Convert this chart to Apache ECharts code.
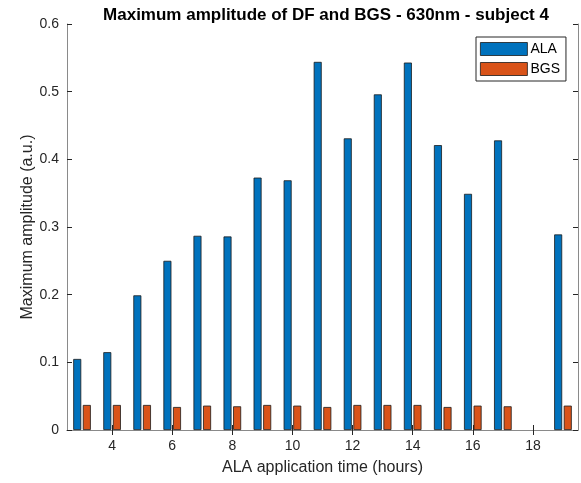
<!DOCTYPE html>
<html>
<head>
<meta charset="utf-8">
<script src="https://cdn.jsdelivr.net/npm/echarts@6/dist/echarts.min.js"></script>
<style>html,body{margin:0;padding:0;background:#fff}#c{width:581px;height:483px}</style>
</head>
<body>
<div id="c"></div>
<script>
const categories = [3,4,5,6,7,8,9,10,11,12,13,14,15,16,17,18,19];
const alaValues = [0.105,0.115,0.199,0.250,0.287,0.286,0.373,0.369,0.544,0.431,0.496,0.543,0.421,0.349,0.428,null,0.289];
const bgsValues = [0.037,0.037,0.037,0.034,0.036,0.035,0.037,0.036,0.034,0.037,0.037,0.037,0.034,0.036,0.035,null,0.036];
const yTicks = [0,0.1,0.2,0.3,0.4,0.5,0.6];

const font = 'Liberation Sans, Arial, sans-serif';
const axisGrey = '#8a8a8a';
const evenOnly = function (idx, val) { return Number(val) % 2 === 0; };

const chart = echarts.init(document.getElementById('c'), null, {renderer: 'canvas'});
chart.setOption({
  animation: false,
  backgroundColor: '#ffffff',
  title: {
    text: 'Maximum amplitude of DF and BGS - 630nm - subject 4',
    left: 321, textAlign: 'center', top: 2,
    textStyle: {fontFamily: font, fontSize: 17, fontWeight: 'bold', color: '#000'}
  },
  legend: {
    data: ['ALA', 'BGS'],
    orient: 'vertical',
    left: 476, top: 37,
    icon: 'rect',
    itemWidth: 47, itemHeight: 13, itemGap: 6,
    padding: [5, 6, 5, 4],
    borderColor: '#262626', borderWidth: 1,
    backgroundColor: '#fff',
    itemStyle: {borderColor: '#1a1a1a', borderWidth: 0.8},
    textStyle: {fontFamily: font, fontSize: 14, color: '#000', padding: [0, 0, 0, -2]}
  },
  grid: {left: 67, right: 3, top: 24, bottom: 53, containLabel: false},
  xAxis: [{
    type: 'category',
    data: categories,
    name: 'ALA application time (hours)',
    nameLocation: 'middle', nameGap: 30,
    nameTextStyle: {fontFamily: font, fontSize: 16, color: '#262626'},
    axisLine: {show: true, lineStyle: {color: axisGrey}},
    axisTick: {show: true, inside: true, length: 5, alignWithLabel: true, interval: evenOnly, lineStyle: {color: '#262626'}},
    axisLabel: {interval: evenOnly, fontFamily: font, fontSize: 14, color: '#262626', margin: 9},
    splitLine: {show: false}
  }, {
    type: 'category',
    data: categories,
    position: 'top',
    axisLine: {show: true, lineStyle: {color: axisGrey}},
    axisTick: {show: true, inside: true, length: 5, alignWithLabel: true, interval: evenOnly, lineStyle: {color: '#262626'}},
    axisLabel: {show: false}
  }],
  yAxis: [{
    type: 'value',
    min: 0, max: 0.6, interval: 0.1,
    name: 'Maximum amplitude (a.u.)',
    nameLocation: 'middle', nameGap: 31, nameMoveOverlap: false,
    nameTextStyle: {fontFamily: font, fontSize: 16, color: '#262626'},
    axisLine: {show: true, lineStyle: {color: axisGrey}},
    axisTick: {show: true, inside: true, length: 5, lineStyle: {color: '#262626'}},
    axisLabel: {fontFamily: font, fontSize: 14, color: '#262626', margin: 8,
      formatter: function (v) { return String(Math.round(v * 10) / 10); }},
    splitLine: {show: false}
  }, {
    type: 'value',
    min: 0, max: 0.6, interval: 0.1,
    position: 'right',
    axisLine: {show: true, lineStyle: {color: axisGrey}},
    axisTick: {show: true, inside: true, length: 5, lineStyle: {color: '#262626'}},
    axisLabel: {show: false},
    splitLine: {show: false}
  }],
  series: [{
    name: 'ALA', type: 'bar', data: alaValues,
    barWidth: 8, barGap: '20%',
    itemStyle: {color: '#0072BD', borderColor: '#1a1a1a', borderWidth: 0.8}
  }, {
    name: 'BGS', type: 'bar', data: bgsValues,
    barWidth: 8, barGap: '20%',
    itemStyle: {color: '#D95319', borderColor: '#1a1a1a', borderWidth: 0.8}
  }]
});
</script>
</body>
</html>
